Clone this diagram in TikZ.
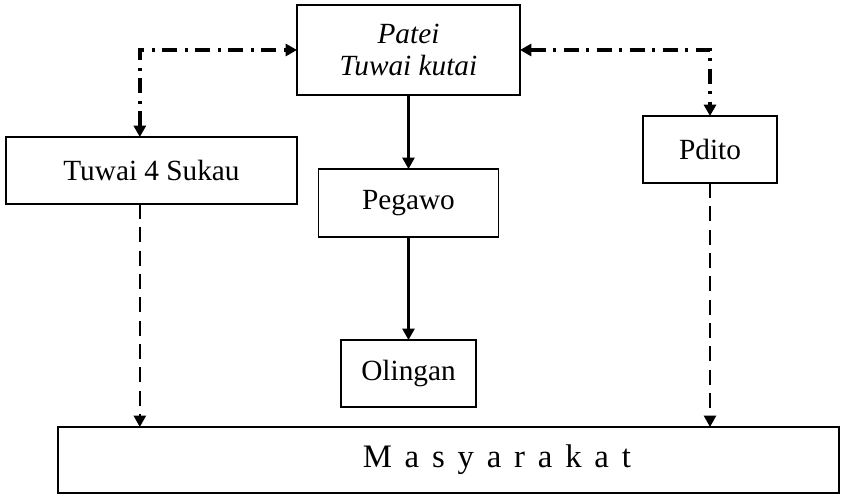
\documentclass[tikz,border=0pt]{standalone}
\usepackage{fontspec}
\setmainfont{Liberation Serif}
\usepackage{tikz}
\usetikzlibrary{arrows.meta,positioning}

\begin{document}
\begin{tikzpicture}[
  node distance=1cm and 1cm, >={Triangle[length=0.34cm,width=0.36cm]},
  orgbox/.style={rectangle,draw=black,line width=1.6pt,align=center,inner sep=0pt,outer sep=0pt,
    font=\fontsize{25}{28}\selectfont},
  solidarr/.style={->,line width=2pt},
  dasharr/.style={->,line width=2pt,dash pattern=on 0.45cm off 0.25cm},
  dotdash/.style={<->,line width=3pt,dash pattern=on 0.45cm off 0.22cm on 0.1cm off 0.22cm},
]
\useasboundingbox (-12.255,-13.35) rectangle (13.005,1.5);

\node[orgbox,minimum width=6.69cm,minimum height=2.7cm] (patei) {\itshape Patei\\\itshape Tuwai kutai};
\node[orgbox,minimum width=5.4cm,minimum height=2.04cm,below=2.22cm of patei] (pegawo) {Pegawo};
\node[orgbox,minimum width=4.05cm,minimum height=2.01cm,below=3.09cm of pegawo] (olingan) {Olingan};
\node[orgbox,minimum width=8.73cm,minimum height=2.01cm,below left=1.26cm and 0cm of patei] (tuwai) {Tuwai 4 Sukau};
\node[orgbox,minimum width=4.02cm,minimum height=2.01cm,below right=0.63cm and 3.69cm of patei] (pdito) {Pdito};
\node[orgbox,minimum width=23.43cm,minimum height=1.98cm,below=0.6cm of olingan,xshift=1.2cm,
  font=\fontsize{28}{30}\selectfont] (masy) {\hspace*{2.9cm}\addfontfeature{LetterSpace=39}Masyarakat};

\draw[dotdash] ([xshift=-0.35cm]tuwai.north) |- (patei.west);
\draw[dotdash] (patei.east) -| (pdito.north);
\draw[solidarr] (patei) -- (pegawo);
\draw[solidarr] (pegawo) -- (olingan);
\draw[dasharr] ([xshift=-0.35cm]tuwai.south) -- ([xshift=-0.35cm]tuwai.south |- masy.north);
\draw[dasharr] (pdito.south) -- (pdito.south |- masy.north);
\end{tikzpicture}
\end{document}
